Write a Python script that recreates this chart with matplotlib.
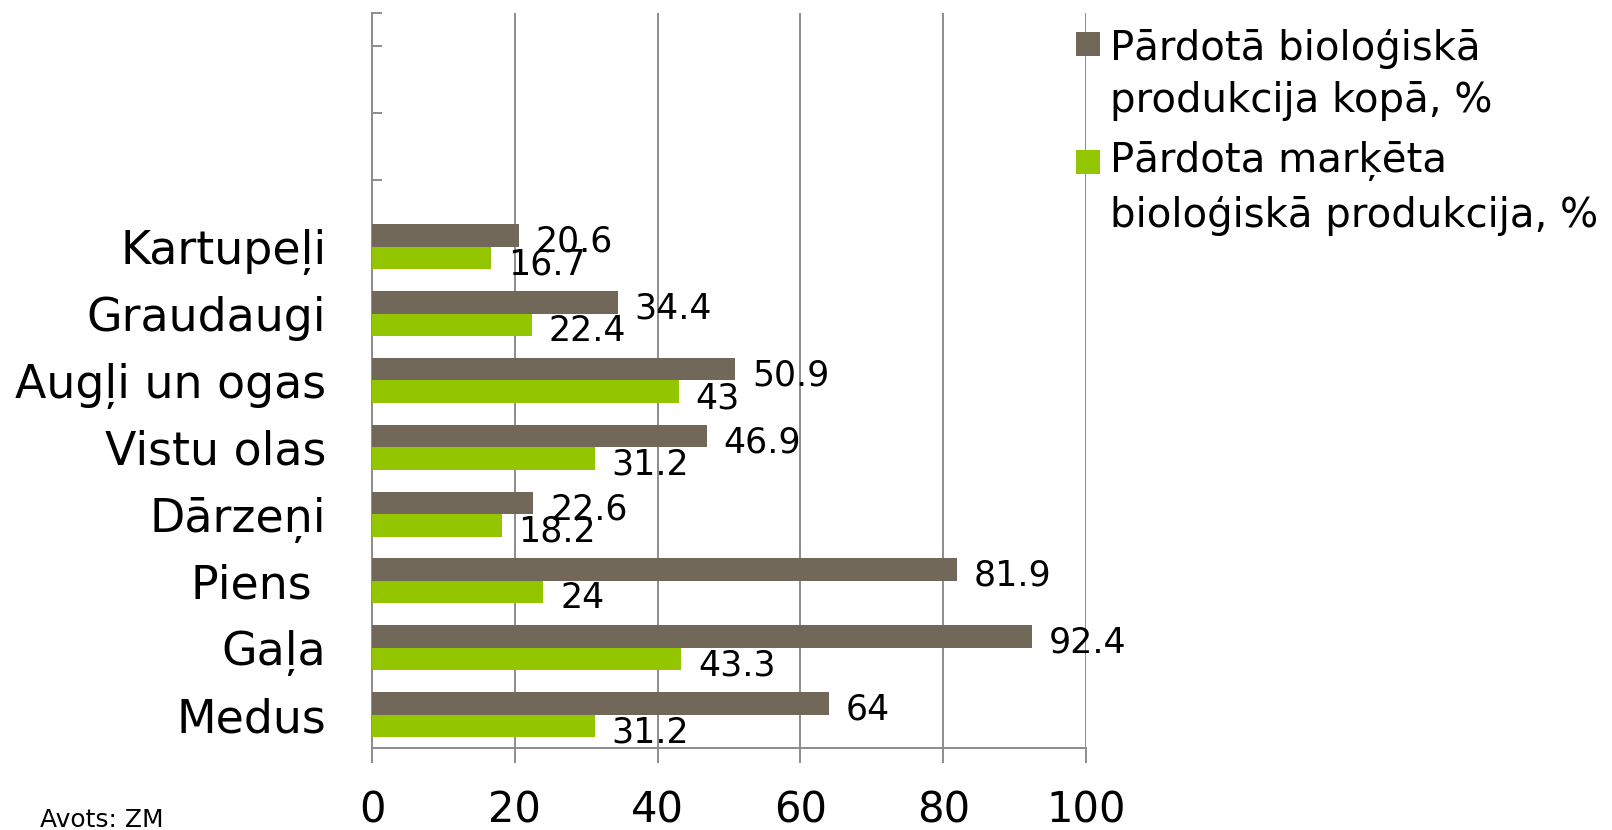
import matplotlib
matplotlib.use('Agg')
import matplotlib.pyplot as plt
from matplotlib.patches import Rectangle

# Data (top to bottom as in the chart)
categories = ["Kartupeļi", "Graudaugi", "Augļi un ogas", "Vistu olas",
              "Dārzeņi", "Piens ", "Gaļa", "Medus"]
kopa_values = [20.6, 34.4, 50.9, 46.9, 22.6, 81.9, 92.4, 64]
marketa_values = [16.7, 22.4, 43, 31.2, 18.2, 24, 43.3, 31.2]
n_empty_slots = 3
series_names = ["Pārdotā bioloģiskā\nprodukcija kopā, %",
                "Pārdota marķēta\nbioloģiskā produkcija, %"]
x_ticks = [0, 20, 40, 60, 80, 100]
source_note = "Avots: ZM"

DARK = '#726859'
GREEN = '#94C600'
GRID = '#8C8C8C'
W, H = 1612, 830

plt.rcParams['font.family'] = ['DejaVu Sans']

fig = plt.figure(figsize=(W / 100, H / 100), dpi=100)
ax = fig.add_axes([372 / W, (H - 748) / H, (1086 - 372) / W, (748 - 13) / H])


def px(x, y):
    # pixel coords (from top-left) -> figure fraction
    return x / W, 1 - y / H


n = len(categories)
n_slots = n + n_empty_slots
# slot index counted from bottom: Medus = 0
ypos = [n - 1 - i for i in range(n)]
bh = 0.337

bars_k = ax.barh([y + bh / 2 for y in ypos], kopa_values, height=bh, color=DARK, zorder=3)
bars_m = ax.barh([y - bh / 2 for y in ypos], marketa_values, height=bh, color=GREEN, zorder=3)

for bars, vals in [(bars_k, kopa_values), (bars_m, marketa_values)]:
    for b, v in zip(bars, vals):
        ax.annotate(f"{v:g}", xy=(v, b.get_y() + b.get_height() / 2),
                    xytext=(12, -2), textcoords='offset points',
                    ha='left', va='center_baseline', fontsize=25, color='black', zorder=4)

ax.set_xlim(0, 100)
ax.set_ylim(-0.5, n_slots - 0.5)

ax.set_xticks(x_ticks)
ax.set_xticklabels([str(t) for t in x_ticks])
ax.tick_params(axis='x', direction='out', length=10.8, width=1.4, color=GRID,
               labelsize=30, pad=19)

yt = list(range(n_slots)) + [n_slots - 0.5]
ylabels = [""] * len(yt)
for y, c in zip(ypos, categories):
    ylabels[y] = c
ax.set_yticks(yt)
ax.set_yticklabels(ylabels)
ax.tick_params(axis='y', direction='in', length=7.2, width=1.4, color=GRID,
               labelsize=33, pad=33)
for lab in ax.get_yticklabels():
    lab.set_va('center_baseline')

ax.grid(axis='x', color=GRID, linewidth=1.4, zorder=0)
ax.set_axisbelow(True)
for s in ['top', 'right']:
    ax.spines[s].set_visible(False)
for s in ['left', 'bottom']:
    ax.spines[s].set_color(GRID)
    ax.spines[s].set_linewidth(1.4)
    ax.spines[s].set_zorder(2)

# legend drawn by hand so markers sit on the first line of each entry
legend_colors = [DARK, GREEN]
marker_centers = [44, 161.5]
baselines = [[60, 112], [172, 227]]
for name, col, mc, bl in zip(series_names, legend_colors, marker_centers, baselines):
    x0, y0 = px(1076, mc + 12)
    fig.add_artist(Rectangle((x0, y0), 24 / W, 24 / H, transform=fig.transFigure,
                             facecolor=col, edgecolor='none', zorder=5))
    for line, yb in zip(name.split("\n"), bl):
        fig.text(*px(1110, yb), line, fontsize=29, ha='left', va='baseline')

fig.text(*px(40, 827), source_note, fontsize=18, ha='left', va='baseline')

plt.savefig("out.png", dpi=100)
